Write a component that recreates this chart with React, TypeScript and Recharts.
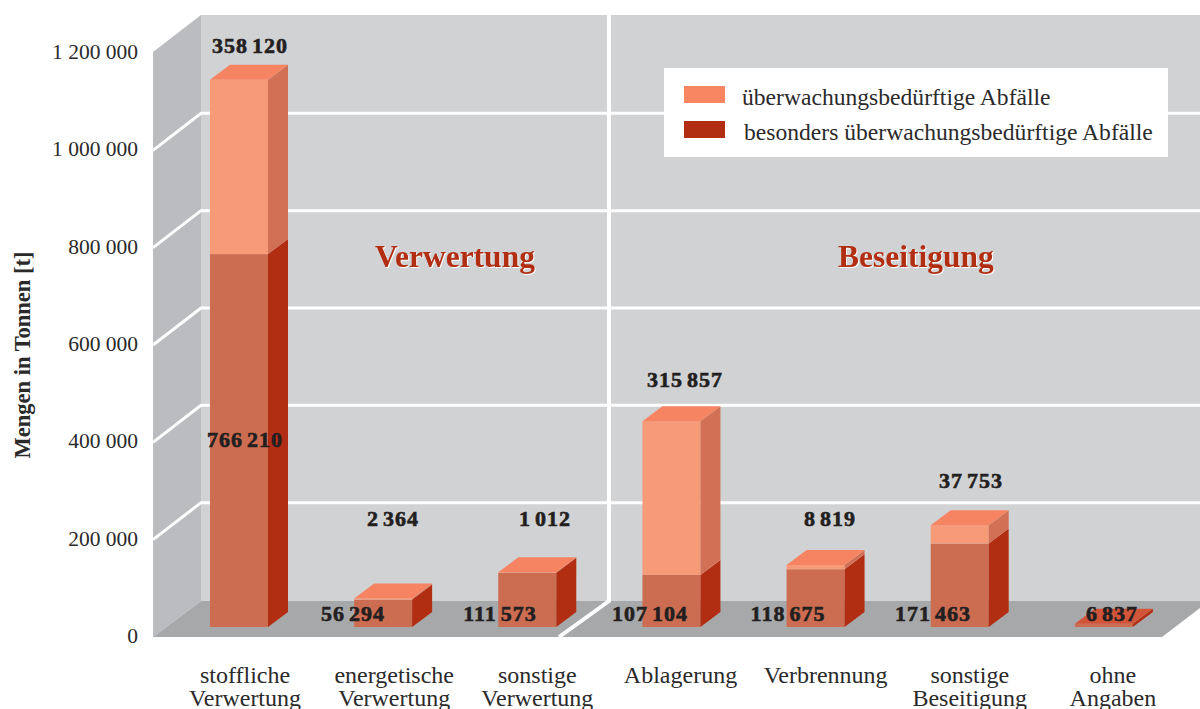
import React from "react";
import { BarChart, Bar, XAxis, YAxis, Legend, LabelList } from "recharts";

const CATEGORIES = [
    "stoffliche Verwertung",
    "energetische Verwertung",
    "sonstige Verwertung",
    "Ablagerung",
    "Verbrennung",
    "sonstige Beseitigung",
    "ohne Angaben",
];
const BESONDERS = [766210, 56294, 111573, 107104, 118675, 171463, 6837];
const UEBERWACHT = [358120, 2364, 1012, 315857, 8819, 37753, null];
const Y_TICKS = [0, 200000, 400000, 600000, 800000, 1000000, 1200000];

// label anchors, in page pixels
const UPPER_LABEL_X = [250, 393, 545, 685, 830, 971, 0];
const UPPER_LABEL_Y = [46, 519, 519, 380, 519, 481, 0];
const LOWER_LABEL_X = [245, 353, 500, 650, 788, 933, 1112];
const LOWER_LABEL_Y = [440, 614, 614, 614, 614, 614, 614];
const TICK_SHIFT = [6, 11, 10, 9, 10, 10, 9];

const data = CATEGORIES.map((category, i) => ({
    category,
    besonders: BESONDERS[i],
    ueberwacht: UEBERWACHT[i],
}));

const W = 1200;
const H = 709;
const PLOT_LEFT = 167;
const PLOT_TOP = 53;
const PLOT_BOTTOM = 637;
const Y_MAX = 1200000;
const DEPTH_X = 20;
const DEPTH_Y = 15;
const LIFT = 10;

const SERIF = "'Liberation Serif', serif";
const INK = "#2b2a2b";
const RED = "#b22e12";

const fmt = (v: number) => String(v).replace(/\B(?=(\d{3})+(?!\d))/g, " ");
const yPx = (v: number) => PLOT_BOTTOM - (v / Y_MAX) * (PLOT_BOTTOM - PLOT_TOP);

const Box = ({ x, y, width, height, front, side, cap }: any) => {
    const top = y - LIFT;
    const bottom = y + height - LIFT;
    const r = x + width;
    return (
        <g>
            <rect x={x} y={top} width={width} height={height} fill={front} />
            <polygon
                points={`${r},${top} ${r + DEPTH_X},${top - DEPTH_Y} ${r + DEPTH_X},${bottom - DEPTH_Y} ${r},${bottom}`}
                fill={side}
            />
            {cap && (
                <polygon
                    points={`${x},${top} ${r},${top} ${r + DEPTH_X},${top - DEPTH_Y} ${x + DEPTH_X},${top - DEPTH_Y}`}
                    fill={cap}
                />
            )}
        </g>
    );
};

const LowerShape = (props: any) => (
    <Box
        {...props}
        front="#cc6c50"
        side="#b22e12"
        cap={props.payload.ueberwacht == null ? "#d2553a" : undefined}
    />
);
const UpperShape = (props: any) =>
    props.payload.ueberwacht == null ? null : (
        <Box {...props} front="#f79a78" side="#d27055" cap="#f68462" />
    );

const ValueLabel = ({ text, x, y }: any) => (
    <text
        x={x}
        y={y + 7}
        textAnchor="middle"
        fontFamily={SERIF}
        fontWeight="bold"
        fontSize={22}
        letterSpacing={1}
        wordSpacing={-2.5}
        fill="#231f20"
        stroke="#231f20"
        strokeWidth={0.6}
    >
        {text}
    </text>
);

const YTick = ({ y, payload }: any) => (
    <text x={138} y={y + 6} textAnchor="end" fontFamily={SERIF} fontSize={21.5} fill={INK}>
        {fmt(payload.value)}
    </text>
);

const XTick = ({ x, y, payload, index }: any) => (
    <text textAnchor="middle" fontFamily={SERIF} fontSize={24} fill={INK}>
        {String(payload.value)
            .split(" ")
            .map((line: string, i: number) => (
                <tspan key={line} x={x + TICK_SHIFT[index]} y={y + 45 - 7 + i * 22.5}>
                    {line}
                </tspan>
            ))}
    </text>
);

const LegendBox = ({ payload }: any) => (
    <div style={{ width: 504, height: 89, background: "#fff", position: "relative", fontFamily: SERIF, textAlign: "left" }}>
        {[...(payload || [])].reverse().map((p: any, i: number) => (
            <div key={p.value}>
                <div
                    style={{
                        position: "absolute",
                        left: 20,
                        top: 18 + i * 35,
                        width: 41,
                        height: 17,
                        background: i === 0 ? "#f88662" : p.color,
                    }}
                />
                <div
                    style={{
                        position: "absolute",
                        left: i === 0 ? 78 : 80,
                        top: 16 + i * 35,
                        fontSize: 23.6,
                        lineHeight: "26px",
                        color: INK,
                        whiteSpace: "nowrap",
                    }}
                >
                    {p.value}
                </div>
            </div>
        ))}
    </div>
);

const Walls = () => (
    <g>
        <polygon points="201,15 1200,15 1200,601 201,601" fill="#d1d2d4" />
        <polygon points="153,52 201,15 201,601 153,637" fill="#bbbcbf" />
        <polygon points="201,601 1200,601 1200,608 1162,637 153,637" fill="#a7a8aa" />
        {Y_TICKS.filter((t) => t > 0 && t < Y_MAX).map((t) => (
            <polyline
                key={t}
                points={`153,${yPx(t)} 201,${yPx(t) - 37} 1200,${yPx(t) - 37}`}
                fill="none"
                stroke="#fff"
                strokeWidth={3}
            />
        ))}
        <polyline points="609,15 609,601 559,637" fill="none" stroke="#fff" strokeWidth={4} />
        <text
            x={455}
            y={267}
            textAnchor="middle"
            fontFamily={SERIF}
            fontWeight="bold"
            fontSize={31.5}
            fill={RED}
            style={{ filter: "drop-shadow(1px 1px 0 #fff)" }}
        >
            Verwertung
        </text>
        <text
            x={916}
            y={267}
            textAnchor="middle"
            fontFamily={SERIF}
            fontWeight="bold"
            fontSize={31.5}
            fill={RED}
            style={{ filter: "drop-shadow(1px 1px 0 #fff)" }}
        >
            Beseitigung
        </text>
        <text
            x={0}
            y={0}
            transform="translate(30,355) rotate(-90)"
            textAnchor="middle"
            fontFamily={SERIF}
            fontWeight="bold"
            fontSize={22.5}
            fill={INK}
        >
            Mengen in Tonnen [t]
        </text>
    </g>
);

export default function App() {
    return (
        <div style={{ position: "absolute", left: 0, top: 0, width: W, height: H, background: "#fff" }}>
            <BarChart
                width={W}
                height={H}
                data={data}
                margin={{ top: PLOT_TOP, right: 24, bottom: 0, left: 0 }}
            >
                <Walls />
                <XAxis
                    dataKey="category"
                    height={H - PLOT_BOTTOM}
                    axisLine={false}
                    tickLine={false}
                    interval={0}
                    tick={<XTick />}
                />
                <YAxis
                    width={PLOT_LEFT}
                    domain={[0, Y_MAX]}
                    ticks={Y_TICKS}
                    axisLine={false}
                    tickLine={false}
                    interval={0}
                    tick={<YTick />}
                />
                <Legend
                    layout="horizontal"
                    verticalAlign="middle"
                    align="center"
                    content={<LegendBox />}
                    wrapperStyle={{ left: 664, top: 68, right: "auto", bottom: "auto", width: 504, height: 89 }}
                />
                <Bar
                    dataKey="besonders"
                    name="besonders überwachungsbedürftige Abfälle"
                    stackId="a"
                    barSize={58}
                    fill="#b22e12"
                    shape={<LowerShape />}
                    isAnimationActive={false}
                >
                    <LabelList
                        dataKey="besonders"
                        content={(p: any) => (
                            <ValueLabel
                                text={fmt(BESONDERS[p.index])}
                                x={LOWER_LABEL_X[p.index]}
                                y={LOWER_LABEL_Y[p.index]}
                            />
                        )}
                    />
                </Bar>
                <Bar
                    dataKey="ueberwacht"
                    name="überwachungsbedürftige Abfälle"
                    stackId="a"
                    barSize={58}
                    fill="#f88662"
                    shape={<UpperShape />}
                    isAnimationActive={false}
                >
                    <LabelList
                        dataKey="ueberwacht"
                        content={(p: any) =>
                            UEBERWACHT[p.index] == null ? null : (
                                <ValueLabel
                                    text={fmt(UEBERWACHT[p.index] as number)}
                                    x={UPPER_LABEL_X[p.index]}
                                    y={UPPER_LABEL_Y[p.index]}
                                />
                            )
                        }
                    />
                </Bar>
            </BarChart>
        </div>
    );
}
